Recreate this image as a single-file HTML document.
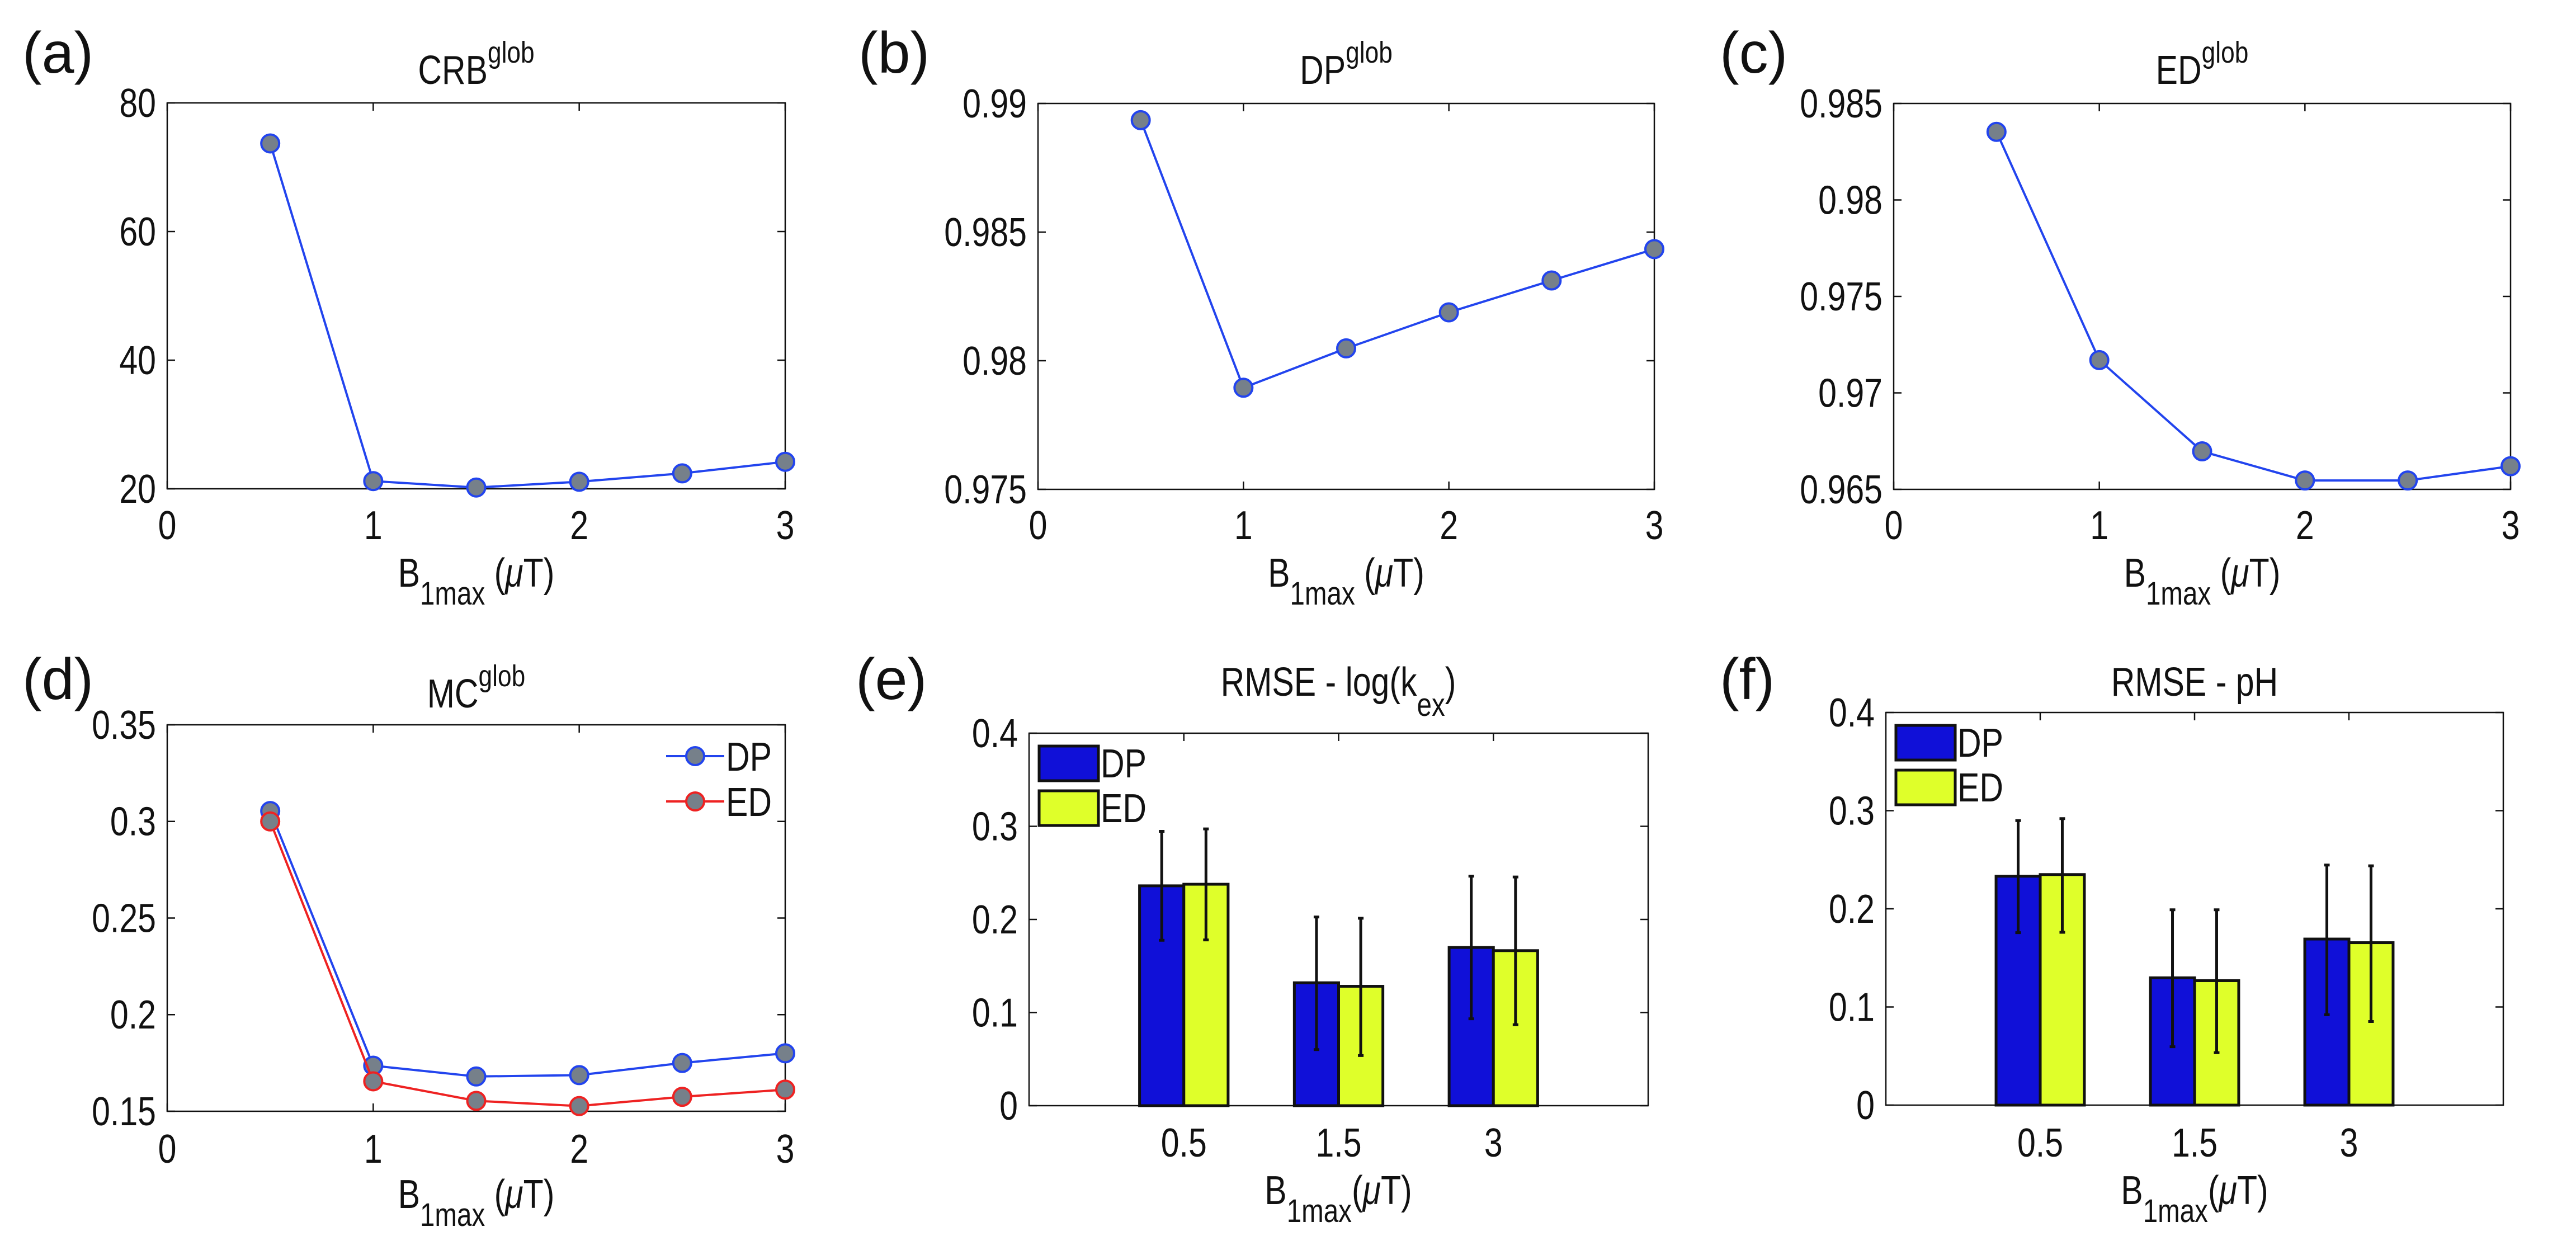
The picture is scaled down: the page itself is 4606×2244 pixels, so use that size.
<!DOCTYPE html>
<html><head><meta charset="utf-8">
<style>
html,body{margin:0;padding:0;background:#fff;}
svg{display:block;}
text{font-family:"Liberation Sans Narrow","Liberation Sans",sans-serif;fill:#111;}
.pl{font-family:"Liberation Sans",sans-serif;}
</style></head>
<body>
<svg id="fig" width="4606" height="2244" viewBox="0 0 4606 2244" xmlns="http://www.w3.org/2000/svg"></svg>
<script>
const xVals=[0.5,1,1.5,2,2.5,3];
const crbVals=[73.7,21.2,20.2,21.1,22.4,24.2];
const dpVals=[0.98935,0.97895,0.98048,0.98188,0.98312,0.98434];
const edVals=[0.98353,0.9717,0.96697,0.96546,0.96546,0.9662];
const mcDP=[0.3054,0.1736,0.168,0.1687,0.175,0.18];
const mcED=[0.3,0.1655,0.1554,0.1527,0.1575,0.1612];
const barCats=["0.5","1.5","3"];
const kexDP=[0.2361,0.132,0.1699];
const kexED=[0.2378,0.1282,0.1665];
const kexDPlo=[0.1776,0.0602,0.0933];
const kexDPhi=[0.2946,0.2026,0.2465];
const kexEDlo=[0.178,0.0538,0.0869];
const kexEDhi=[0.2972,0.2013,0.2456];
const phDP=[0.2332,0.1297,0.1692];
const phED=[0.2349,0.1268,0.1655];
const phDPlo=[0.1757,0.0595,0.0921];
const phDPhi=[0.2899,0.199,0.2446];
const phEDlo=[0.1761,0.0534,0.0852];
const phEDhi=[0.2919,0.199,0.2438];
const lineTicksX=["0","1","2","3"];
const crbTicks=["20","40","60","80"];
const dpTicks=["0.975","0.98","0.985","0.99"];
const edTicks=["0.965","0.97","0.975","0.98","0.985"];
const mcTicks=["0.15","0.2","0.25","0.3","0.35"];
const barTicks=["0","0.1","0.2","0.3","0.4"];

const NS="http://www.w3.org/2000/svg";
const svg=document.getElementById('fig');
function el(tag,attrs,parent){const e=document.createElementNS(NS,tag);for(const k in attrs)e.setAttribute(k,attrs[k]);(parent||svg).appendChild(e);return e;}

function axesBox(g,L,R,T,B){
  const r=el('rect',{x:L,y:T,width:R-L,height:B-T,fill:'none',stroke:'#111','stroke-width':2.5},g);
  
  
}
function yTicks(g,L,R,ys,labels){
  labels.forEach((lb,i)=>{
    const y=ys(parseFloat(lb));
    el('line',{x1:L,y1:y,x2:L+14,y2:y,stroke:'#111','stroke-width':2.5},g);
    el('line',{x1:R,y1:y,x2:R-14,y2:y,stroke:'#111','stroke-width':2.5},g);
    const t=el('text',{x:L-20,y:y+25,'font-size':72,'text-anchor':'end'},g);
    t.textContent=lb;
    
    
  });
}
function titleSup(g,cx,base,main,sup){
  const t=el('text',{x:cx,y:base,'font-size':72,'text-anchor':'middle'},g);
  
  
  const s1=el('tspan',{},t);s1.textContent=main;
  const s2=el('tspan',{dy:-38,'font-size':54},t);s2.textContent=sup;
}
function xLabel(g,cx,base,space){
  const t=el('text',{x:cx,y:base,'font-size':72,'text-anchor':'middle'},g);
  
  
  const a=el('tspan',{},t);a.textContent='B';
  const b=el('tspan',{dy:32,'font-size':58},t);b.textContent='1max';
  const c=el('tspan',{dy:-32},t);c.textContent=(space?' (':'(');
  const d=el('tspan',{'font-style':'italic'},t);d.textContent='\u03bc';
  const e=el('tspan',{},t);e.textContent='T)';
}
function panelLabel(x,y,txt){
  const t=el('text',{x:x,y:y,'font-size':104,class:'pl'});
  t.textContent=txt;
  
  
}

function linePanel(name,L,R,T,B,ymin,ymax,ticks,series,titleMain,titleBase,xlBase,tickC){
  const g=el('g',{});
  
  
  const xs=v=>L+(R-L)*v/3;
  const ys=v=>B-(B-T)*(v-ymin)/(ymax-ymin);
  axesBox(g,L,R,T,B);
  lineTicksX.forEach(lb=>{
    const x=xs(parseFloat(lb));
    el('line',{x1:x,y1:B,x2:x,y2:B-14,stroke:'#111','stroke-width':2.5},g);
    el('line',{x1:x,y1:T,x2:x,y2:T+14,stroke:'#111','stroke-width':2.5},g);
    const t=el('text',{x:x,y:tickC+26,'font-size':72,'text-anchor':'middle'},g);
    t.textContent=lb;
    
    
  });
  yTicks(g,L,R,ys,ticks);
  series.forEach(s=>{
    const pts=xVals.map((x,i)=>xs(x)+','+ys(s.vals[i])).join(' ');
    const pl=el('polyline',{points:pts,fill:'none',stroke:s.color,'stroke-width':4},g);
    
    
    xVals.forEach((x,i)=>{
      const c=el('ellipse',{cx:xs(x),cy:ys(s.vals[i]),rx:16,ry:16,fill:'#76808a',stroke:s.color,'stroke-width':4},g);
      
      
    });
  });
  titleSup(g,(L+R)/2,titleBase,titleMain,'glob');
  xLabel(g,(L+R)/2,xlBase,true);
  return g;
}

function barPanel(name,L,R,T,B,dp,ed,dplo,dphi,edlo,edhi,legT,tickC,xlBase){
  const g=el('g',{});
  
  
  const xs=v=>L+(R-L)*v/4;
  const ys=v=>B-(B-T)*v/0.4;
  axesBox(g,L,R,T,B);
  const bw=(R-L)*0.286/4;
  barCats.forEach((lb,i)=>{
    const cx=xs(i+1);
    el('line',{x1:cx,y1:B,x2:cx,y2:B-14,stroke:'#111','stroke-width':2.5},g);
    el('line',{x1:cx,y1:T,x2:cx,y2:T+14,stroke:'#111','stroke-width':2.5},g);
    const t=el('text',{x:cx,y:tickC+26,'font-size':72,'text-anchor':'middle'},g);
    t.textContent=lb;
    
    
  });
  yTicks(g,L,R,ys,barTicks);
  const groups=[[dp,dplo,dphi,'#1010d8',-1],[ed,edlo,edhi,'#dfff2a',0]];
  groups.forEach(([vals,lo,hi,col,off])=>{
    vals.forEach((v,i)=>{
      const x0=xs(i+1)+off*bw;
      const r=el('rect',{x:x0,y:ys(v),width:bw,height:B-ys(v),fill:col,stroke:'#111','stroke-width':5},g);
      
      
      const ex=x0+bw/2;
      const e=el('path',{d:`M${ex},${ys(lo[i])}V${ys(hi[i])}M${ex-5},${ys(lo[i])}H${ex+5}M${ex-5},${ys(hi[i])}H${ex+5}`,stroke:'#111','stroke-width':5,fill:'none'},g);
      
      
    });
  });
  const lx=L+18;
  [['DP','#1010d8',legT],['ED','#dfff2a',legT+80]].forEach(([lb,col,y])=>{
    const r=el('rect',{x:lx,y:y,width:106,height:62,fill:col,stroke:'#111','stroke-width':5},g);
    
    
    const t=el('text',{x:lx+110,y:y+56,'font-size':72},g);
    t.textContent=lb;
    
    
  });
  return g;
}

panelLabel(40,130,'(a)');
linePanel('panel-a-crb',299,1404,184,874,20,80,crbTicks,[{vals:crbVals,color:'#2244ee'}],'CRB',150,1049,938);
panelLabel(1535,130,'(b)');
linePanel('panel-b-dp',1856,2958,185,875,0.975,0.99,dpTicks,[{vals:dpVals,color:'#2244ee'}],'DP',150,1049,938);
panelLabel(3075,130,'(c)');
linePanel('panel-c-ed',3386,4489,185,875,0.965,0.985,edTicks,[{vals:edVals,color:'#2244ee'}],'ED',150,1049,938);

panelLabel(40,1250,'(d)');
const gd=linePanel('panel-d-mc',299,1404,1296,1987,0.15,0.35,mcTicks,[{vals:mcDP,color:'#2244ee'},{vals:mcED,color:'#ee2222'}],'MC',1265,2160,2053);
[['DP','#2244ee',1352],['ED','#ee2222',1433]].forEach(([lb,col,y])=>{
  const l=el('line',{x1:1191,y1:y,x2:1295,y2:y,stroke:col,'stroke-width':4},gd);
  
  
  const c=el('ellipse',{cx:1243,cy:y,rx:16,ry:16,fill:'#76808a',stroke:col,'stroke-width':4},gd);
  
  
  const t=el('text',{x:1298,y:y+26,'font-size':72},gd);
  t.textContent=lb;
  
  
});

panelLabel(1530,1250,'(e)');
const ge=barPanel('panel-e-rmse-kex',1840,2947,1311,1977,kexDP,kexED,kexDPlo,kexDPhi,kexEDlo,kexEDhi,1334,2042,2153);
{
  const t=el('text',{x:2393,y:1244,'font-size':72,'text-anchor':'middle'},ge);
  
  
  const a=el('tspan',{},t);a.textContent='RMSE - log(k';
  const b=el('tspan',{dy:36,'font-size':58},t);b.textContent='ex';
  const c=el('tspan',{dy:-36},t);c.textContent=')';
}
xLabel(ge,2393,2153,false);

panelLabel(3075,1250,'(f)');
const gf=barPanel('panel-f-rmse-ph',3372,4476,1274,1976,phDP,phED,phDPlo,phDPhi,phEDlo,phEDhi,1297,2042,2153);
{
  const t=el('text',{x:3924,y:1244,'font-size':72,'text-anchor':'middle'},gf);
  t.textContent='RMSE - pH';
  
  
}
xLabel(gf,3924,2153,false);

// condense non-panel-label text horizontally (narrow font look)
svg.querySelectorAll('text').forEach(t=>{
  if(t.classList.contains('pl'))return;
  const x=parseFloat(t.getAttribute('x')),y=parseFloat(t.getAttribute('y'));
  t.setAttribute('transform',`translate(${x} ${y}) scale(0.82 1) translate(${-x} ${-y})`);
});
</script>
</body></html>
